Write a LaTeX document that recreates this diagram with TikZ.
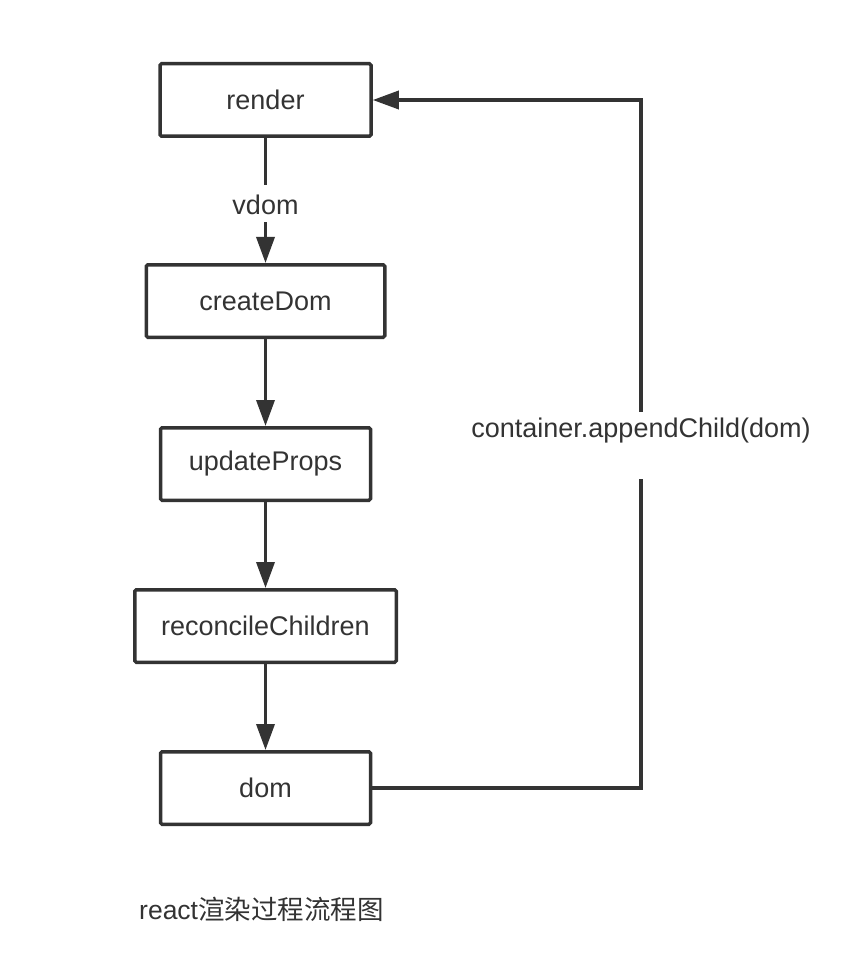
\documentclass[tikz,border=0pt]{standalone}
\usepackage{fontspec}
\setmainfont{Liberation Sans}
\newfontfamily\cjkfont{Noto Sans CJK SC}
\usetikzlibrary{arrows.meta,positioning}
\definecolor{flowDark}{RGB}{51,51,51}

\begin{document}
\begin{tikzpicture}[x=1pt, y=-1pt,
  stage/.style={draw=flowDark, line width=3.5pt, rounded corners=1.5pt,
                minimum height=72.5pt, text=flowDark,
                font=\fontsize{27}{32}\selectfont},
  link/.style={line width=3.5pt, flowDark},
  arr/.style={link, -{Triangle[length=26pt,width=18pt]}},
  lbl/.style={fill=white, inner xsep=4pt, inner ysep=0pt, text=flowDark,
              font=\fontsize{27}{32}\selectfont}
]
  \useasboundingbox (0,0) rectangle (844,976);

  \node[stage, minimum width=211pt]                       (render)    at (265.5,100) {render};
  \node[stage, minimum width=238.5pt, below=125pt of render] (create)    {createDom};
  \node[stage, minimum width=210pt,   below=87pt of create]  (props)     {updateProps};
  \node[stage, minimum width=261.5pt, below=86pt of props]   (reconcile) {reconcileChildren};
  \node[stage, minimum width=210pt,   below=86pt of reconcile] (dom)     {dom};

  \draw[arr] (render) -- node[lbl, pos=0.616, anchor=base, text height=30pt, text depth=7pt] (vdom) {vdom} (create);
  \draw[arr] (create) -- (props);
  \draw[arr] (props) -- (reconcile);
  \draw[arr] (reconcile) -- (dom);

  % back to render
  \node[lbl, anchor=base, text height=25pt, text depth=42pt] (append) at (641,437) {container.appendChild(dom)};
  \draw[link] (dom.east) -| (append.south);
  \draw[arr] (append.north) |- (render.east);

  \node[anchor=base west, inner sep=0pt, text=flowDark, font=\fontsize{26.5}{31}\selectfont]
    (caption) at (139,919) {react{\cjkfont 渲染过程流程图}};
\end{tikzpicture}
\end{document}
